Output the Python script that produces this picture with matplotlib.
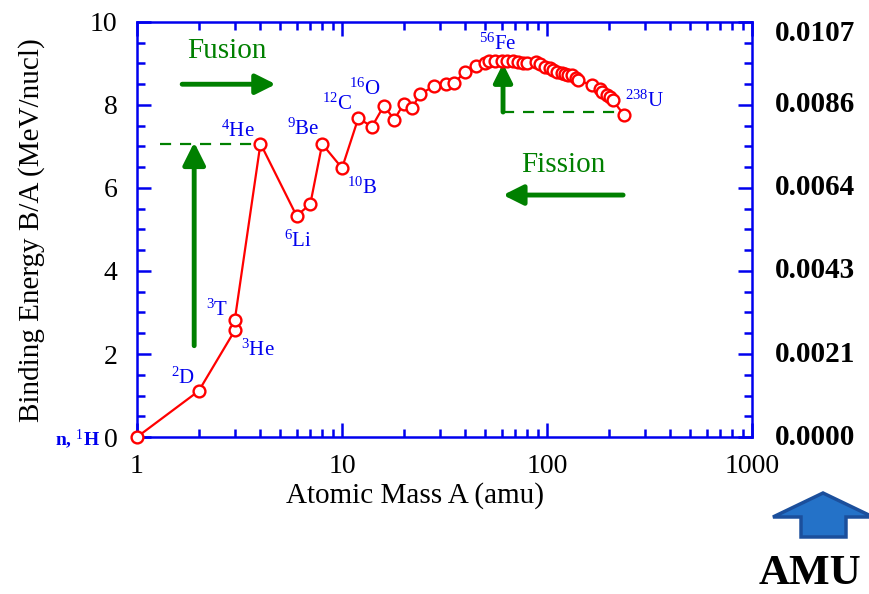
import matplotlib
matplotlib.use("Agg")
import matplotlib.pyplot as plt
from matplotlib.patches import Polygon
from matplotlib.ticker import FixedLocator, NullFormatter
import matplotlib.transforms as mtransforms

plt.rcParams['font.family'] = ['Liberation Serif', 'DejaVu Serif']
plt.rcParams['mathtext.fontset'] = 'custom'
plt.rcParams['mathtext.rm'] = 'Liberation Serif'
plt.rcParams['mathtext.it'] = 'Liberation Serif'

# Data: mass number A and binding energy per nucleon (MeV)
mass_A = [1, 2, 3, 3, 4, 6, 7, 8, 10, 12, 14, 16, 18, 20, 22, 24, 28, 32, 35, 40,
          45, 50, 52, 56, 60, 64, 68, 72, 76, 80, 88, 92, 98, 103, 107, 112, 118,
          122, 127, 132, 138, 141, 165, 181, 186, 197, 203, 209, 238]
binding = [0, 1.11, 2.57, 2.83, 7.07, 5.33, 5.61, 7.06, 6.48, 7.68, 7.48, 7.98, 7.65,
           8.03, 7.93, 8.26, 8.45, 8.50, 8.52, 8.80, 8.93, 9.00, 9.05, 9.06, 9.06,
           9.06, 9.05, 9.04, 9.00, 9.00, 9.04, 8.98, 8.92, 8.88, 8.84, 8.80, 8.77,
           8.74, 8.73, 8.72, 8.65, 8.60, 8.48, 8.38, 8.31, 8.24, 8.19, 8.12, 7.75]

x_ticks = [1, 10, 100, 1000]
x_ticklabels = ['1', '10', '100', '1000']
y_ticks = [0, 2, 4, 6, 8, 10]
amu_values = [0, 2, 4, 6, 8, 9.73]
amu_labels = ['0.0000', '0.0021', '0.0043', '0.0064', '0.0086', '0.0107']

nuclide_labels = [r'$^{2}$D', r'$^{3}$T', r'$^{3}$He', r'$^{4}$He', r'$^{9}$Be', r'$^{6}$Li',
                  r'$^{10}$B', r'$^{12}$C', r'$^{16}$O', r'$^{56}$Fe', r'$^{238}$U']
label_x = [1.68, 2.46, 3.89, 3.11, 6.45, 6.11, 12.5, 9.44, 12.9, 57.6, 300]
label_y = [1.42, 3.06, 2.10, 7.37, 7.42, 4.72, 6.0, 8.02, 8.39, 9.47, 8.10]

BLUE = '#0000EE'
GREEN = '#008000'
RED = '#FF0000'

fig = plt.figure(figsize=(8.69, 5.94), dpi=100)
ax = fig.add_axes([0.1577, 0.2643, 0.7077, 0.6987])

ax.plot(mass_A, binding, color=RED, lw=1.6, marker='o', ms=8.5, mfc='white',
        mec=RED, mew=1.7, clip_on=False, zorder=5)

ax.set_xscale('log')
ax.set_xlim(1, 1000)
ax.set_ylim(0, 10)

for s in ax.spines.values():
    s.set_color(BLUE)
    s.set_linewidth(1.8)

ax.xaxis.set_major_locator(FixedLocator(x_ticks))
ax.set_xticklabels(x_ticklabels)
minor_x = [m * d for d in (1, 10, 100) for m in range(2, 10)]
ax.xaxis.set_minor_locator(FixedLocator(minor_x))
ax.xaxis.set_minor_formatter(NullFormatter())
ax.set_yticks(y_ticks)
ax.set_yticklabels([str(v) for v in y_ticks])
ax.yaxis.set_minor_locator(FixedLocator([v * 0.5 for v in range(21)]))

ax.tick_params(which='both', direction='in', color=BLUE, top=True, right=True, width=1.8)
ax.tick_params(which='major', length=10, labelsize=20)
ax.tick_params(which='minor', length=6)
ax.tick_params(axis='y', which='major', pad=14)
ax.tick_params(axis='x', which='major', pad=12)

ax.text(0.452, -0.14, 'Atomic Mass A (amu)', transform=ax.transAxes, ha='center',
        va='center', fontsize=21)
ax.text(-0.171, 0.499, 'Binding Energy B/A (MeV/nucl)', transform=ax.transAxes,
        ha='center', va='center', rotation=90, fontsize=21)

# right-hand AMU labels
trans = mtransforms.blended_transform_factory(ax.transAxes, ax.transData)
for v, lab in zip(amu_values, amu_labels):
    ax.text(1.102, v, lab, transform=trans, ha='center', va='center',
            fontsize=21, fontweight='bold', clip_on=False)

# nuclide labels
for lab, lx, ly in zip(nuclide_labels, label_x, label_y):
    ax.text(lx, ly, lab, color=BLUE, fontsize=15, ha='center', va='center', zorder=6)
ax.text(0.51, -0.05, r'n, $^{1}$H', color=BLUE, fontsize=14, fontweight='bold',
        ha='center', va='center', clip_on=False)

# Fusion / Fission annotations
ax.text(2.75, 9.3, 'Fusion', color=GREEN, fontsize=21, ha='center', va='center')
ax.annotate('', xy=(4.75, 8.5), xytext=(1.66, 8.5),
            arrowprops=dict(arrowstyle='-|>', color=GREEN, lw=3.5, mutation_scale=30,
                            shrinkA=0, shrinkB=0))
ax.text(120, 6.55, 'Fission', color=GREEN, fontsize=21, ha='center', va='center')
ax.annotate('', xy=(61, 5.83), xytext=(235, 5.83),
            arrowprops=dict(arrowstyle='-|>', color=GREEN, lw=3.5, mutation_scale=30,
                            shrinkA=0, shrinkB=0))
# vertical arrows and dashed levels
ax.annotate('', xy=(1.9, 7.1), xytext=(1.9, 2.2),
            arrowprops=dict(arrowstyle='-|>', color=GREEN, lw=3.5, mutation_scale=34,
                            shrinkA=0, shrinkB=0))
ax.plot([1.3, 4.1], [7.07, 7.07], color=GREEN, lw=1.6, ls=(0, (5, 4)))
ax.annotate('', xy=(61, 9.0), xytext=(61, 7.83),
            arrowprops=dict(arrowstyle='-|>', color=GREEN, lw=3.5, mutation_scale=28,
                            shrinkA=0, shrinkB=0))
ax.plot([61, 238], [7.83, 7.83], color=GREEN, lw=1.6, ls=(0, (5, 4)))

# blue block arrow and AMU caption
W, H = 869, 594
pts = [(801, 537), (801, 517), (773, 517), (823, 493), (873, 517), (846, 517), (846, 537)]
fig.patches.append(Polygon([(x / W, 1 - y / H) for x, y in pts], closed=True,
                           transform=fig.transFigure, facecolor='#2472C8',
                           edgecolor='#1B4F9C', lw=2.5))
fig.text(810 / W, 1 - 574 / H, 'AMU', fontsize=31, fontweight='bold', ha='center',
         va='center')

fig.savefig('out.png', dpi=100)
